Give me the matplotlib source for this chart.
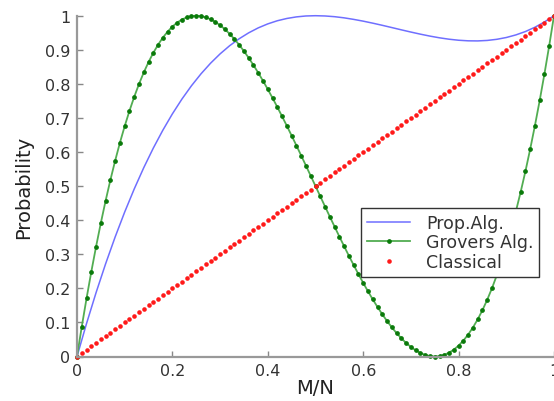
import matplotlib

matplotlib.use("Agg")
import matplotlib.pyplot as plt
import numpy as np

# M/N grid, step 0.01
m_over_n = np.round(np.arange(101) * 0.01, 2)

grovers = [
    0.0, 0.0876, 0.1705, 0.2488, 0.3226, 0.392, 0.4571, 0.5179, 0.5746, 0.6273,
    0.676, 0.7209, 0.7620, 0.7996, 0.8335, 0.864, 0.8911, 0.9150, 0.9357, 0.9533,
    0.968, 0.9798, 0.9888, 0.9951, 0.9988, 1.0, 0.9988, 0.9953, 0.9896, 0.9818,
    0.972, 0.9603, 0.9467, 0.9314, 0.9145, 0.896, 0.8761, 0.8548, 0.8324, 0.8087,
    0.784, 0.7583, 0.7318, 0.7045, 0.6765, 0.648, 0.6190, 0.5896, 0.5599, 0.5300,
    0.5, 0.4700, 0.4401, 0.4104, 0.3810, 0.352, 0.3235, 0.2955, 0.2682, 0.2417,
    0.216, 0.1913, 0.1676, 0.1452, 0.1239, 0.104, 0.0855, 0.0686, 0.0533, 0.0397,
    0.028, 0.0182, 0.0104, 0.0047, 0.0012, 0.0, 0.0012, 0.0049, 0.0112, 0.0202,
    0.032, 0.0467, 0.0643, 0.0850, 0.1089, 0.136, 0.1665, 0.2004, 0.2380, 0.2791,
    0.324, 0.3727, 0.4254, 0.4821, 0.5429, 0.608, 0.6774, 0.7512, 0.8295, 0.9124,
    1.0,
]

classical = [
    0.00, 0.01, 0.02, 0.03, 0.04, 0.05, 0.06, 0.07, 0.08, 0.09,
    0.10, 0.11, 0.12, 0.13, 0.14, 0.15, 0.16, 0.17, 0.18, 0.19,
    0.20, 0.21, 0.22, 0.23, 0.24, 0.25, 0.26, 0.27, 0.28, 0.29,
    0.30, 0.31, 0.32, 0.33, 0.34, 0.35, 0.36, 0.37, 0.38, 0.39,
    0.40, 0.41, 0.42, 0.43, 0.44, 0.45, 0.46, 0.47, 0.48, 0.49,
    0.50, 0.51, 0.52, 0.53, 0.54, 0.55, 0.56, 0.57, 0.58, 0.59,
    0.60, 0.61, 0.62, 0.63, 0.64, 0.65, 0.66, 0.67, 0.68, 0.69,
    0.70, 0.71, 0.72, 0.73, 0.74, 0.75, 0.76, 0.77, 0.78, 0.79,
    0.80, 0.81, 0.82, 0.83, 0.84, 0.85, 0.86, 0.87, 0.88, 0.89,
    0.90, 0.91, 0.92, 0.93, 0.94, 0.95, 0.96, 0.97, 0.98, 0.99,
    1.00,
]

# proposed algorithm, sampled every 0.02
prop_x = np.round(np.arange(51) * 0.02, 2)
prop_alg = [
    0.0, 0.0968, 0.1875, 0.2721, 0.3508, 0.424, 0.4917, 0.5542, 0.6116, 0.6641,
    0.712, 0.7554, 0.7945, 0.8295, 0.8606, 0.888, 0.9119, 0.9324, 0.9498, 0.9643,
    0.976, 0.9852, 0.9919, 0.9965, 0.9992, 1.0, 0.9992, 0.9971, 0.9937, 0.9892,
    0.984, 0.9781, 0.9718, 0.9652, 0.9585, 0.952, 0.9458, 0.9401, 0.9351, 0.9310,
    0.928, 0.9263, 0.9260, 0.9274, 0.9307, 0.936, 0.9436, 0.9535, 0.9661, 0.9816,
    1.0,
]

x_ticks = [0, 0.2, 0.4, 0.6, 0.8, 1]
x_tick_labels = ["0", "0.2", "0.4", "0.6", "0.8", "1"]
y_ticks = [0, 0.1, 0.2, 0.3, 0.4, 0.5, 0.6, 0.7, 0.8, 0.9, 1]
y_tick_labels = ["0", "0.1", "0.2", "0.3", "0.4", "0.5", "0.6", "0.7", "0.8", "0.9", "1"]

plt.rcParams["font.family"] = ["DejaVu Sans"]

fig = plt.figure(figsize=(5.54, 4.02), dpi=100)
ax = fig.add_axes([77 / 554, 44.5 / 402, 477 / 554, 340.8 / 402])

ax.plot(prop_x, prop_alg, color="#6f6fff", linewidth=1.1, label="Prop.Alg.")
ax.plot(
    m_over_n,
    grovers,
    color="#52ad52",
    linewidth=1.3,
    marker="o",
    markersize=2.4,
    markerfacecolor="#0a7a0a",
    markeredgecolor="#0a7a0a",
    label="Grovers Alg.",
)
ax.plot(
    m_over_n,
    classical,
    linestyle="none",
    marker="o",
    markersize=3.3,
    color="#ff1a1a",
    markeredgewidth=0,
    label="Classical",
)

ax.set_xlim(0, 1)
ax.set_ylim(0, 1)
ax.set_xticks(x_ticks)
ax.set_xticklabels(x_tick_labels)
ax.set_yticks(y_ticks)
ax.set_yticklabels(y_tick_labels)
ax.tick_params(direction="in", length=4, width=1, color="#888888", labelsize=11.5,
               labelcolor="#333333", pad=5)
for side in ["top", "right"]:
    ax.spines[side].set_visible(False)
for side in ["left", "bottom"]:
    ax.spines[side].set_color("#999999")
    ax.spines[side].set_linewidth(1.6)

ax.set_xlabel("M/N", fontsize=14, color="#222222", labelpad=0)
ax.set_ylabel("Probability", fontsize=14, color="#222222", labelpad=8)

leg = ax.legend(
    loc="upper left",
    bbox_to_anchor=(0.595, 0.436),
    borderaxespad=0,
    fontsize=12.5,
    fancybox=False,
    framealpha=1,
    edgecolor="#333333",
    handlelength=2.5,
    labelspacing=0.08,
    borderpad=0.35,
    handletextpad=0.9,
)
leg.get_frame().set_linewidth(1.0)
for t in leg.get_texts():
    t.set_color("#333333")

for line in ax.get_lines():
    line.set_clip_on(False)

fig.savefig("out.png", dpi=100)
